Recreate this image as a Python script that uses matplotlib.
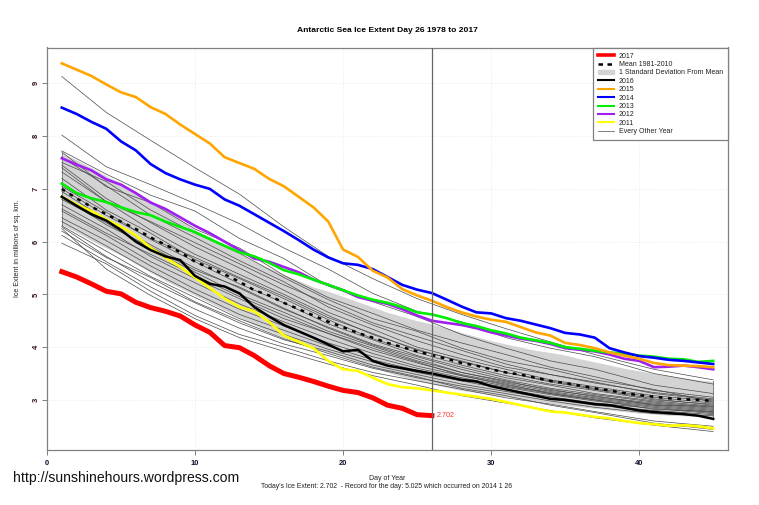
import matplotlib
matplotlib.use('Agg')
import matplotlib.pyplot as plt
from matplotlib.lines import Line2D
from matplotlib.patches import Patch

plt.rcParams['font.family'] = ['Liberation Sans', 'DejaVu Sans']

days = list(range(1, 46))

y2017 = [5.43, 5.33, 5.20, 5.06, 5.01, 4.85, 4.75, 4.68, 4.59, 4.42, 4.28, 4.03, 3.99, 3.84, 3.65,
         3.50, 3.43, 3.35, 3.26, 3.18, 3.14, 3.04, 2.90, 2.84, 2.72, 2.702]
y2016 = [6.85, 6.68, 6.52, 6.40, 6.22, 6.00, 5.84, 5.72, 5.65, 5.35, 5.20, 5.15, 5.02, 4.76, 4.58,
         4.42, 4.30, 4.18, 4.05, 3.92, 3.95, 3.74, 3.65, 3.60, 3.55, 3.50, 3.44, 3.38, 3.35, 3.26,
         3.20, 3.14, 3.08, 3.02, 3.00, 2.96, 2.92, 2.90, 2.85, 2.80, 2.77, 2.75, 2.73, 2.70, 2.64]
y2015 = [9.38, 9.26, 9.14, 8.98, 8.83, 8.74, 8.55, 8.42, 8.22, 8.04, 7.86, 7.60, 7.49, 7.38, 7.19,
         7.05, 6.85, 6.65, 6.38, 5.85, 5.71, 5.45, 5.32, 5.10, 4.98, 4.88, 4.76, 4.66, 4.58, 4.52,
         4.48, 4.38, 4.28, 4.22, 4.08, 4.04, 3.98, 3.90, 3.84, 3.78, 3.70, 3.66, 3.65, 3.64, 3.62]
y2014 = [8.54, 8.42, 8.27, 8.14, 7.90, 7.73, 7.47, 7.30, 7.18, 7.08, 7.00, 6.80, 6.68, 6.52, 6.36,
         6.20, 6.03, 5.85, 5.70, 5.59, 5.56, 5.48, 5.33, 5.18, 5.09, 5.025, 4.90, 4.77, 4.66, 4.64,
         4.55, 4.50, 4.43, 4.36, 4.27, 4.24, 4.18, 3.98, 3.90, 3.83, 3.80, 3.76, 3.74, 3.71, 3.68]
y2013 = [7.10, 6.92, 6.82, 6.75, 6.65, 6.56, 6.50, 6.38, 6.28, 6.18, 6.05, 5.92, 5.80, 5.72, 5.60,
         5.46, 5.38, 5.28, 5.18, 5.08, 4.98, 4.90, 4.84, 4.76, 4.66, 4.62, 4.55, 4.46, 4.40, 4.32,
         4.26, 4.18, 4.13, 4.08, 4.00, 3.97, 3.93, 3.90, 3.88, 3.84, 3.82, 3.78, 3.77, 3.72, 3.74]
y2012 = [7.58, 7.46, 7.35, 7.18, 7.08, 6.92, 6.74, 6.62, 6.46, 6.30, 6.16, 6.00, 5.84, 5.68, 5.62,
         5.52, 5.42, 5.28, 5.18, 5.08, 4.95, 4.88, 4.82, 4.72, 4.60, 4.50, 4.46, 4.42, 4.36, 4.28,
         4.22, 4.16, 4.12, 4.06, 3.98, 3.95, 3.92, 3.86, 3.78, 3.74, 3.62, 3.63, 3.65, 3.62, 3.58]
y2011 = [6.85, 6.70, 6.58, 6.42, 6.28, 6.12, 5.88, 5.70, 5.52, 5.32, 5.12, 4.92, 4.76, 4.68, 4.48,
         4.22, 4.10, 3.98, 3.74, 3.58, 3.55, 3.42, 3.30, 3.24, 3.22, 3.18, 3.14, 3.10, 3.06, 3.02,
         2.96, 2.90, 2.84, 2.78, 2.76, 2.72, 2.68, 2.65, 2.60, 2.56, 2.54, 2.51, 2.52, 2.50, 2.46]
mean = [7.00, 6.82, 6.66, 6.52, 6.38, 6.24, 6.08, 5.94, 5.80, 5.62, 5.50, 5.38, 5.24, 5.08, 4.98,
        4.84, 4.72, 4.60, 4.48, 4.38, 4.27, 4.18, 4.08, 4.00, 3.92, 3.85, 3.78, 3.70, 3.65, 3.58,
        3.52, 3.48, 3.42, 3.36, 3.32, 3.27, 3.22, 3.18, 3.13, 3.09, 3.06, 3.03, 3.01, 3.00, 2.98]
sd_upper = [7.68, 7.55, 7.40, 7.25, 7.10, 6.95, 6.78, 6.62, 6.42, 6.22, 6.08, 5.92, 5.78, 5.62, 5.50,
            5.38, 5.26, 5.14, 5.06, 4.96, 4.86, 4.76, 4.66, 4.58, 4.50, 4.44, 4.36, 4.28, 4.20, 4.12,
            4.06, 4.00, 3.94, 3.90, 3.85, 3.78, 3.72, 3.66, 3.60, 3.55, 3.50, 3.46, 3.42, 3.38, 3.35]
sd_lower = [6.32, 6.18, 6.02, 5.88, 5.74, 5.58, 5.42, 5.26, 5.12, 4.98, 4.84, 4.70, 4.56, 4.42, 4.30,
            4.18, 4.08, 3.98, 3.90, 3.82, 3.72, 3.62, 3.52, 3.44, 3.36, 3.30, 3.24, 3.18, 3.14, 3.10,
            3.06, 3.02, 2.98, 2.94, 2.90, 2.87, 2.84, 2.81, 2.78, 2.75, 2.73, 2.71, 2.70, 2.69, 2.68]

# the thin years, read every few days
thin_days = [1, 4, 7, 10, 13, 16, 19, 22, 25, 28, 31, 34, 37, 41, 45]
thin_years = [
    [9.13, 8.45, 7.92, 7.40, 6.90, 6.28, 5.72, 5.30, 4.92, 4.62, 4.35, 4.10, 3.86, 3.58, 3.38],
    [8.02, 7.42, 7.08, 6.72, 6.34, 5.88, 5.48, 5.02, 4.68, 4.48, 4.18, 3.98, 3.82, 3.50, 3.30],
    [7.72, 7.28, 6.88, 6.58, 6.06, 5.68, 5.16, 4.86, 4.58, 4.24, 3.98, 3.74, 3.58, 3.28, 3.12],
    [7.70, 7.04, 6.74, 6.24, 5.88, 5.36, 4.94, 4.64, 4.32, 4.08, 3.86, 3.62, 3.44, 3.18, 3.05],
    [7.60, 7.06, 6.50, 6.08, 5.64, 5.24, 4.76, 4.42, 4.12, 3.86, 3.62, 3.48, 3.32, 3.14, 3.02],
    [7.45, 6.82, 6.36, 5.90, 5.50, 5.08, 4.66, 4.34, 4.00, 3.78, 3.58, 3.38, 3.25, 3.08, 2.98],
    [7.32, 6.76, 6.22, 5.76, 5.38, 5.00, 4.60, 4.24, 3.96, 3.72, 3.52, 3.36, 3.22, 3.05, 2.94],
    [7.20, 6.60, 6.16, 5.66, 5.30, 4.92, 4.52, 4.16, 3.90, 3.66, 3.46, 3.30, 3.18, 3.00, 2.92],
    [7.05, 6.56, 6.04, 5.62, 5.20, 4.84, 4.44, 4.14, 3.84, 3.62, 3.42, 3.28, 3.12, 2.98, 2.88],
    [6.95, 6.42, 5.94, 5.50, 5.12, 4.72, 4.38, 4.06, 3.82, 3.58, 3.38, 3.22, 3.10, 2.96, 2.86],
    [6.80, 6.36, 5.86, 5.42, 5.00, 4.66, 4.30, 4.02, 3.74, 3.52, 3.34, 3.20, 3.06, 2.94, 2.84],
    [6.70, 6.24, 5.72, 5.30, 4.92, 4.54, 4.26, 3.94, 3.70, 3.48, 3.32, 3.16, 3.04, 2.92, 2.82],
    [6.58, 6.12, 5.62, 5.22, 4.82, 4.48, 4.16, 3.88, 3.64, 3.46, 3.28, 3.14, 3.02, 2.90, 2.80],
    [6.45, 6.02, 5.54, 5.10, 4.72, 4.40, 4.08, 3.82, 3.60, 3.42, 3.26, 3.12, 3.00, 2.88, 2.78],
    [6.38, 5.92, 5.44, 5.02, 4.62, 4.32, 4.02, 3.76, 3.56, 3.38, 3.24, 3.10, 2.98, 2.86, 2.76],
    [6.30, 5.82, 5.34, 4.94, 4.54, 4.24, 3.96, 3.72, 3.52, 3.36, 3.20, 3.06, 2.94, 2.84, 2.74],
    [6.28, 5.72, 5.24, 4.84, 4.46, 4.14, 3.92, 3.66, 3.48, 3.30, 3.16, 3.02, 2.90, 2.80, 2.72],
    [6.12, 5.62, 5.14, 4.72, 4.36, 4.06, 3.84, 3.60, 3.42, 3.26, 3.12, 2.98, 2.86, 2.74, 2.70],
    [5.97, 5.58, 5.06, 4.60, 4.24, 4.00, 3.74, 3.52, 3.36, 3.20, 3.04, 2.92, 2.78, 2.60, 2.50],
    [6.25, 5.48, 4.98, 4.54, 4.18, 3.92, 3.68, 3.46, 3.28, 3.08, 2.94, 2.80, 2.66, 2.52, 2.40],
    [6.62, 6.16, 5.76, 5.36, 4.96, 4.60, 4.26, 3.98, 3.72, 3.46, 3.30, 3.12, 3.00, 2.82, 2.78],
    [7.00, 6.50, 6.06, 5.70, 5.32, 4.96, 4.56, 4.26, 3.94, 3.74, 3.52, 3.34, 3.20, 3.02, 2.90],
    [6.85, 6.32, 5.90, 5.46, 5.14, 4.74, 4.36, 4.04, 3.78, 3.52, 3.36, 3.18, 3.08, 2.90, 2.88],
    [7.40, 6.76, 6.38, 5.98, 5.58, 5.18, 4.82, 4.46, 4.20, 3.94, 3.68, 3.48, 3.34, 3.12, 3.00],
    [7.50, 7.14, 6.60, 6.16, 5.78, 5.32, 4.90, 4.54, 4.30, 3.98, 3.74, 3.58, 3.38, 3.20, 2.96],
    [6.20, 5.70, 5.32, 4.86, 4.50, 4.16, 3.88, 3.62, 3.44, 3.22, 3.08, 2.90, 2.76, 2.56, 2.44],
]
x_ticks = [0, 10, 20, 30, 40]
y_ticks = [3, 4, 5, 6, 7, 8, 9]

fig = plt.figure(figsize=(7.59, 5.05), dpi=100)
ax = fig.add_axes([47 / 759, 1 - 449.5 / 505, 681 / 759, 402 / 505])

ax.fill_between(days, sd_lower, sd_upper, color='#d3d3d3', lw=0, zorder=1)
ax.plot([1, 1], [sd_lower[0], sd_upper[0]], color='#808080', lw=0.7, zorder=1.5)
ax.plot([45, 45], [sd_lower[-1], sd_upper[-1]], color='#808080', lw=0.7, zorder=1.5)

for vals in thin_years:
    ax.plot(thin_days, vals, color='#4a4a4a', lw=0.5, zorder=2)

ax.plot(days, mean, color='black', lw=1.8, ls=(0, (1.5, 2.2)), zorder=3)
ax.plot(days, y2011, color='#ffff00', lw=1.9, zorder=4)
ax.plot(days, y2012, color='#a020f0', lw=1.9, zorder=4)
ax.plot(days, y2013, color='#00ee00', lw=1.9, zorder=4)
ax.plot(days, y2014, color='#0000ff', lw=1.9, zorder=4)
ax.plot(days, y2015, color='#ffa500', lw=1.9, zorder=4)
ax.plot(days, y2016, color='black', lw=1.8, zorder=4)
ax.plot(days[:len(y2017)], y2017, color='#ff0000', lw=3.6, zorder=5)

ax.axvline(26, color='#666666', lw=0.9, zorder=6)
ax.text(26.35, y2017[-1], '2.702', color='#ff3030', fontsize=5.2, va='center', zorder=7)

ax.set_xlim(0, 46)
ax.set_ylim(2.06, 9.68)
ax.set_xticks(x_ticks)
ax.set_yticks(y_ticks)
ax.grid(True, color='#e4e4e4', lw=0.6, ls=(0, (1, 2)))
ax.set_axisbelow(True)
ax.tick_params(axis='x', labelsize=5.4, length=3.5, width=0.7, color='#808080', pad=4, labelcolor='#101030')
ax.tick_params(axis='y', labelsize=5.4, length=3.5, width=0.7, color='#808080', pad=1.5,
               labelrotation=90, labelcolor='#301010')
for lab in ax.get_yticklabels():
    lab.set_va('center')
for lab in ax.get_xticklabels() + ax.get_yticklabels():
    lab.set_fontweight('bold')
for s in ax.spines.values():
    s.set_color('#808080')
    s.set_linewidth(0.9)
ax.spines['left'].set_linestyle((0, (1, 1)))

handles = [
    Line2D([], [], color='#ff0000', lw=2.6),
    Line2D([], [], color='black', lw=1.8, ls=(0, (1.8, 1.8))),
    Patch(facecolor='#d3d3d3', edgecolor='#d3d3d3'),
    Line2D([], [], color='black', lw=1.5),
    Line2D([], [], color='#ffa500', lw=1.5),
    Line2D([], [], color='#0000ff', lw=1.5),
    Line2D([], [], color='#00ee00', lw=1.5),
    Line2D([], [], color='#a020f0', lw=1.5),
    Line2D([], [], color='#ffff00', lw=1.5),
    Line2D([], [], color='#808080', lw=0.7),
]
labels = ['2017', 'Mean 1981-2010', '1 Standard Deviation From Mean', '2016', '2015', '2014',
          '2013', '2012', '2011', 'Every Other Year']
leg = ax.legend(handles, labels, loc='upper right', borderaxespad=0, fontsize=5.0, fancybox=False,
                framealpha=1, edgecolor='#808080', labelspacing=0.2, handlelength=2.4,
                handletextpad=0.6, borderpad=0.75, labelcolor='#222222')
leg.get_frame().set_linewidth(0.9)
leg.set_zorder(10)

fig.text(387 / 759, 1 - 31 / 505, 'Antarctic Sea Ice Extent Day 26 1978 to 2017', ha='center',
         va='center', fontsize=6.1, fontweight='bold')
fig.text(18 / 759, 1 - 248 / 505, 'Ice Extent in millions of sq. km.', rotation=90, ha='center',
         va='center', fontsize=5.0, color='#222222')
fig.text(387 / 759, 1 - 479 / 505, 'Day of Year', ha='center', va='center', fontsize=5.0,
         color='#222222')
fig.text(387 / 759, 1 - 487 / 505,
         "Today's Ice Extent: 2.702  - Record for the day: 5.025 which occurred on 2014 1 26",
         ha='center', va='center', fontsize=4.95, color='#222222')
fig.text(12.5 / 759, 1 - 478 / 505, 'http://sunshinehours.wordpress.com', ha='left', va='center',
         fontsize=10.1, color='#111111')

fig.savefig('out.png', dpi=100)
